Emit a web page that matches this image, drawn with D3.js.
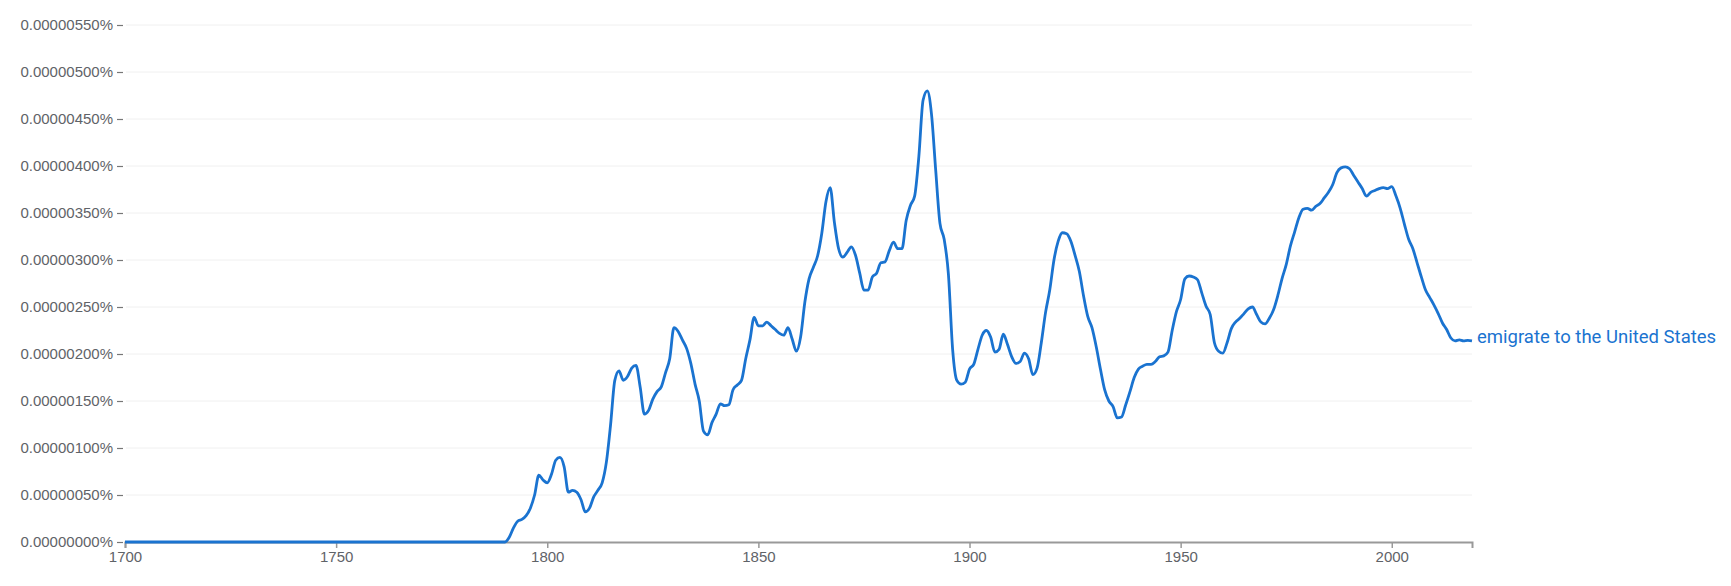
<!DOCTYPE html>
<html>
<head>
<meta charset="utf-8">
<script src="https://cdn.jsdelivr.net/npm/d3@7"></script>
<style>
  body { margin: 0; background: #fff; }
  svg { display: block; font-family: Roboto, "Noto Sans", sans-serif; }
</style>
</head>
<body>
<svg width="1731" height="586"></svg>
<script>
// values are in millionths of a percent (1 = 0.000001%)
const term = "emigrate to the United States";
const years = [1700].concat(d3.range(1790, 2020));
const values = [
  0,
  0, 0.05, 0.15, 0.22, 0.24, 0.28, 0.36, 0.50, 0.71, 0.66,
  0.63, 0.72, 0.87, 0.90, 0.80, 0.53, 0.55, 0.53, 0.45, 0.32,
  0.36, 0.48, 0.55, 0.63, 0.85, 1.25, 1.72, 1.82, 1.72, 1.76,
  1.85, 1.88, 1.65, 1.36, 1.40, 1.52, 1.60, 1.65, 1.80, 1.95,
  2.28, 2.24, 2.15, 2.06, 1.90, 1.68, 1.50, 1.18, 1.14, 1.27,
  1.36, 1.47, 1.45, 1.46, 1.62, 1.67, 1.72, 1.95, 2.15, 2.39,
  2.30, 2.30, 2.34, 2.30, 2.26, 2.22, 2.20, 2.28, 2.16, 2.03,
  2.18, 2.55, 2.80, 2.92, 3.04, 3.28, 3.62, 3.77, 3.40, 3.12,
  3.03, 3.08, 3.14, 3.05, 2.86, 2.68, 2.68, 2.82, 2.86, 2.97,
  2.98, 3.10, 3.19, 3.12, 3.12, 3.42, 3.58, 3.68, 4.10, 4.70,
  4.80, 4.55, 3.95, 3.39, 3.22, 2.85, 2.05, 1.72, 1.68, 1.70,
  1.84, 1.89, 2.05, 2.20, 2.25, 2.18, 2.02, 2.05, 2.21, 2.10,
  1.97, 1.90, 1.92, 2.01, 1.95, 1.78, 1.85, 2.12, 2.44, 2.68,
  3.00, 3.20, 3.29, 3.28, 3.20, 3.05, 2.88, 2.62, 2.40, 2.28,
  2.08, 1.84, 1.62, 1.50, 1.44, 1.32, 1.33, 1.46, 1.60, 1.75,
  1.84, 1.87, 1.89, 1.89, 1.92, 1.97, 1.98, 2.02, 2.25, 2.45,
  2.58, 2.80, 2.83, 2.82, 2.79, 2.65, 2.51, 2.42, 2.12, 2.03,
  2.01, 2.12, 2.27, 2.34, 2.38, 2.43, 2.48, 2.50, 2.42, 2.34,
  2.32, 2.38, 2.47, 2.62, 2.80, 2.95, 3.15, 3.30, 3.45, 3.54,
  3.55, 3.53, 3.57, 3.60, 3.66, 3.72, 3.80, 3.93, 3.98, 3.99,
  3.97, 3.90, 3.83, 3.76, 3.68, 3.72, 3.74, 3.76, 3.77, 3.76,
  3.78, 3.68, 3.55, 3.38, 3.22, 3.12, 2.97, 2.82, 2.68, 2.60,
  2.52, 2.43, 2.33, 2.26, 2.17, 2.14, 2.15, 2.14, 2.145, 2.14
];
const yTicks = [0, 0.5, 1, 1.5, 2, 2.5, 3, 3.5, 4, 4.5, 5, 5.5];
const xTicks = [1700, 1750, 1800, 1850, 1900, 1950, 2000];

const lineColor = "#1a73d0";
const textColor = "#5f6368";

const data = years.map((y, i) => ({ year: y, value: values[i] }));

const svg = d3.select("svg");
const margin = { top: 25, right: 259, bottom: 44, left: 125 };
const width = 1731 - margin.left - margin.right;
const height = 586 - margin.top - margin.bottom;

const g = svg.append("g")
    .attr("transform", `translate(${margin.left},${margin.top})`);

const x = d3.scaleLinear().domain([1700, 2019]).range([0, width]);
const y = d3.scaleLinear().domain([0, 5.5]).range([height, 0]);

// horizontal gridlines
g.append("g")
    .selectAll("line")
    .data(yTicks.slice(1))
    .join("line")
    .attr("x1", 1)
    .attr("x2", width)
    .attr("y1", d => y(d))
    .attr("y2", d => y(d))
    .attr("stroke", "#f0f0f0")
    .attr("stroke-width", 1);

// y axis: ticks and labels only
const yAxis = g.append("g")
    .attr("transform", "translate(-2,0)")
    .call(d3.axisLeft(y)
        .tickValues(yTicks)
        .tickSize(6)
        .tickPadding(4)
        .tickFormat(d => d3.format(".8f")(d / 1e6) + "%"));
yAxis.select(".domain").remove();
yAxis.selectAll(".tick line").attr("stroke", "#777").attr("stroke-width", 1.2);
yAxis.selectAll(".tick text")
    .attr("fill", textColor)
    .style("font-size", "15px");

// x axis
const xAxis = g.append("g")
    .attr("transform", `translate(0,${height})`)
    .call(d3.axisBottom(x)
        .tickValues(xTicks)
        .tickSize(6)
        .tickPadding(3)
        .tickFormat(d3.format("d")));
xAxis.select(".domain").attr("stroke", "#999").attr("stroke-width", 2);
xAxis.selectAll(".tick line").attr("stroke", "#999").attr("stroke-width", 1.5);
xAxis.selectAll(".tick text")
    .attr("fill", textColor)
    .style("font-size", "15px");

const line = d3.line()
    .x(d => x(d.year))
    .y(d => y(d.value))
    .curve(d3.curveMonotoneX);

g.append("path")
    .datum(data)
    .attr("fill", "none")
    .attr("stroke", lineColor)
    .attr("stroke-width", 2.8)
    .attr("stroke-linejoin", "round")
    .attr("d", line);

const last = data[data.length - 1];
g.append("text")
    .attr("x", x(last.year) + 5)
    .attr("y", y(last.value) + 2)
    .attr("fill", lineColor)
    .style("font-size", "18.5px")
    .text(term);
</script>
</body>
</html>
